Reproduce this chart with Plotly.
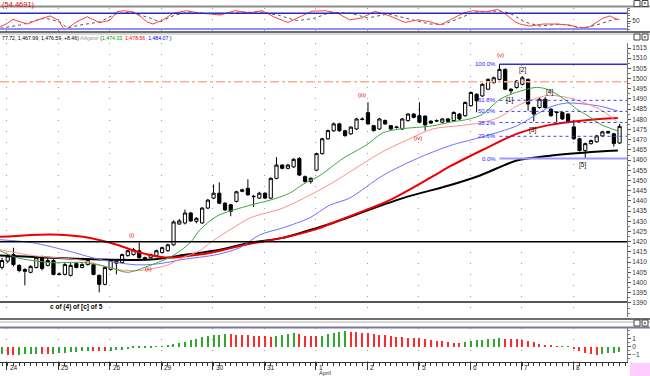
import plotly.graph_objects as go

# ---------------- data ----------------
day_labels = ["24", "25", "26", "29", "30", "31", "1", "2", "5", "6", "7", "8"]
bars_per_day = 9
first_day_bar = 0.87

opens = [1407.4, 1410.5, 1413.7, 1408.4, 1406.4, 1405.0, 1407.4, 1412.2, 1408.4, 1410.8,
         1404.2, 1404.0, 1403.5, 1409.3, 1407.4, 1408.8, 1408.8, 1403.5, 1399.1, 1406.4,
         1409.5, 1409.8, 1413.2, 1413.7, 1415.6, 1412.2, 1412.2, 1413.2, 1414.7, 1415.6,
         1418.5, 1428.7, 1429.2, 1434.1, 1430.0, 1429.2, 1436.5, 1441.4, 1443.8, 1438.9,
         1438.1, 1439.8, 1444.7, 1446.2, 1442.3, 1441.4, 1443.8, 1441.4, 1451.1, 1457.6,
         1456.0, 1456.7, 1460.8, 1451.9, 1449.5, 1455.1, 1463.2, 1470.5, 1474.4, 1477.8,
         1474.4, 1472.9, 1475.3, 1480.2, 1483.3, 1476.9, 1475.3, 1479.4, 1476.9, 1476.3,
         1475.3, 1479.4, 1482.6, 1481.8, 1481.6, 1479.1, 1479.4, 1478.6, 1480.2, 1479.4,
         1482.6, 1481.8, 1486.7, 1492.3, 1491.5, 1494.8, 1498.0, 1499.6, 1504.5, 1494.8,
         1495.6, 1497.2, 1499.6, 1485.8, 1485.8, 1489.9, 1485.0, 1483.6, 1483.4, 1482.6,
         1476.3, 1470.5, 1464.7, 1468.1, 1469.0, 1471.9, 1474.0, 1472.9, 1468.4]
highs = [1412.2, 1414.0, 1417.1, 1409.0, 1407.0, 1408.5, 1413.0, 1413.2, 1412.0, 1411.5,
         1405.0, 1410.0, 1409.8, 1410.0, 1409.5, 1412.0, 1409.3, 1404.0, 1408.0, 1411.3,
         1411.3, 1414.2, 1416.1, 1417.0, 1419.5, 1412.7, 1414.2, 1416.1, 1417.6, 1419.0,
         1430.5, 1431.2, 1435.8, 1434.6, 1432.0, 1437.0, 1441.0, 1448.1, 1449.1, 1439.4,
         1438.6, 1445.0, 1446.0, 1450.6, 1443.0, 1444.5, 1444.3, 1451.6, 1461.5, 1458.0,
         1458.2, 1461.0, 1461.5, 1452.5, 1451.6, 1463.7, 1471.0, 1475.0, 1478.5, 1478.3,
         1474.9, 1476.7, 1480.7, 1481.0, 1488.4, 1477.3, 1480.7, 1480.0, 1477.3, 1476.8,
         1480.7, 1483.1, 1483.1, 1488.4, 1482.0, 1479.6, 1480.0, 1480.7, 1480.7, 1483.9,
         1483.1, 1488.8, 1493.7, 1492.8, 1497.7, 1500.1, 1501.0, 1507.0, 1505.0, 1495.3,
         1499.3, 1501.2, 1500.1, 1486.3, 1490.4, 1490.9, 1485.5, 1484.1, 1483.9, 1483.1,
         1479.7, 1471.0, 1468.6, 1470.1, 1472.4, 1474.4, 1474.5, 1473.4, 1477.72]
lows = [1406.4, 1409.5, 1407.9, 1405.0, 1398.6, 1404.5, 1406.9, 1406.0, 1407.9, 1403.5,
        1403.5, 1403.5, 1403.0, 1406.9, 1407.0, 1408.4, 1403.5, 1395.2, 1398.6, 1405.9,
        1404.0, 1409.3, 1412.7, 1413.2, 1411.8, 1410.8, 1411.8, 1412.7, 1414.2, 1415.1,
        1418.0, 1428.3, 1428.5, 1429.7, 1429.0, 1428.8, 1436.0, 1440.9, 1438.4, 1435.1,
        1432.5, 1439.3, 1444.3, 1442.5, 1437.0, 1441.0, 1440.9, 1440.9, 1450.6, 1455.5,
        1455.5, 1456.2, 1452.2, 1449.0, 1448.5, 1454.6, 1462.7, 1470.0, 1473.9, 1473.9,
        1471.5, 1472.4, 1474.8, 1479.5, 1477.3, 1474.0, 1474.8, 1477.3, 1474.8, 1475.6,
        1474.8, 1478.9, 1480.5, 1478.1, 1474.5, 1477.8, 1478.8, 1478.1, 1478.4, 1478.9,
        1479.7, 1481.3, 1486.2, 1483.5, 1491.0, 1494.3, 1497.5, 1499.1, 1494.3, 1492.5,
        1495.1, 1496.7, 1484.2, 1479.0, 1485.3, 1485.3, 1481.3, 1478.6, 1479.7, 1478.1,
        1470.0, 1464.2, 1460.8, 1467.6, 1468.5, 1471.4, 1473.0, 1466.6, 1467.99]
closes = [1410.8, 1413.0, 1408.8, 1405.9, 1405.5, 1407.9, 1412.2, 1406.9, 1410.8, 1404.0,
          1404.0, 1408.8, 1408.4, 1407.4, 1408.8, 1411.3, 1404.0, 1399.1, 1407.4, 1410.8,
          1410.5, 1413.7, 1415.6, 1416.1, 1412.2, 1411.3, 1413.7, 1415.6, 1417.1, 1418.5,
          1429.7, 1430.2, 1434.1, 1430.2, 1431.5, 1436.5, 1440.4, 1443.8, 1438.9, 1435.6,
          1434.9, 1444.5, 1445.5, 1443.0, 1442.1, 1443.8, 1441.4, 1451.1, 1457.6, 1456.0,
          1457.6, 1460.4, 1452.7, 1449.5, 1451.1, 1463.2, 1470.5, 1474.5, 1477.8, 1474.4,
          1472.0, 1476.2, 1480.2, 1480.0, 1477.8, 1474.5, 1480.2, 1477.8, 1475.3, 1476.0,
          1480.2, 1482.6, 1481.0, 1478.6, 1477.3, 1478.2, 1479.2, 1480.2, 1478.9, 1483.4,
          1480.2, 1488.3, 1493.2, 1489.1, 1497.2, 1499.6, 1500.4, 1504.5, 1494.8, 1494.0,
          1498.8, 1500.4, 1487.5, 1482.6, 1489.9, 1485.8, 1481.8, 1483.4, 1480.2, 1478.6,
          1470.5, 1464.7, 1468.1, 1469.6, 1471.9, 1473.9, 1473.4, 1468.13, 1476.59]

# Alligator lines and two longer averages (bar position, price)
green_bar = [-0.35, 2.6, 8.4, 14.2, 18.9, 21.9, 25.9, 29.9, 32.9, 34.6, 37.6, 43.4, 46.9, 50.3,
             52.6, 55.6, 59.6, 63.8, 66.6, 69.6, 75.3, 78.3, 81.8, 84.1, 87.1, 90, 93.5, 95.8,
             98.8, 100.5, 102.8, 104.5, 107.7]
green_val = [1415.6, 1412.2, 1409.8, 1409.8, 1407.4, 1405.0, 1408.4, 1413.2, 1419.5, 1425.8,
             1432.6, 1437.9, 1440.4, 1443.8, 1448.1, 1452.5, 1460.8, 1467.6, 1473.4, 1475.3,
             1476.8, 1478.6, 1480.2, 1482.6, 1489.9, 1493.3, 1495.7, 1494.3, 1488.9, 1485.0,
             1481.2, 1477.8, 1474.3]
salmon_bar = [-0.35, 5.4, 14.2, 20.1, 24.1, 28.8, 31.6, 34.6, 36.4, 40.4, 43.4, 49.1, 53.8,
              57.9, 62.6, 66.6, 71.3, 75.3, 79.5, 83.6, 87.1, 90, 93.5, 95.8, 99.3, 104.5, 107.7]
salmon_val = [1416.1, 1413.2, 1410.8, 1406.4, 1405.9, 1408.4, 1412.2, 1415.6, 1419.5, 1426.8,
              1431.7, 1436.5, 1442.8, 1449.1, 1457.4, 1464.2, 1470.5, 1475.3, 1476.8, 1478.2,
              1481.2, 1486.5, 1490.4, 1491.8, 1490.4, 1485.0, 1478.6]
blue_bar = [-0.35, 5.4, 11.4, 17.1, 22.9, 25.9, 28.8, 31.6, 37.6, 41.6, 45.1, 49.1, 53.8, 57.3,
            60.8, 66.6, 72.6, 78.3, 84.1, 90, 95.8, 98.8, 104.5, 107.7]
blue_val = [1421.0, 1419.5, 1415.6, 1411.3, 1408.8, 1408.8, 1409.8, 1411.3, 1413.7, 1417.1,
            1423.4, 1426.8, 1431.7, 1437.9, 1441.4, 1452.5, 1460.8, 1467.1, 1471.5, 1476.8,
            1486.0, 1488.0, 1486.5, 1484.1]
red_bar = [-0.35, 8.4, 14.2, 20.1, 24.1, 28.8, 34.6, 38.1, 43.4, 49.1, 55.1, 57.3, 67.8, 75.3,
           78.3, 84.1, 90, 95.8, 104.5, 107.7]
red_val = [1422.4, 1423.6, 1422.4, 1418.5, 1414.7, 1412.2, 1413.7, 1415.6, 1419.0, 1421.9,
           1426.3, 1428.7, 1440.4, 1452.0, 1456.9, 1465.1, 1472.9, 1477.3, 1480.2, 1480.7]
black_bar = [-0.35, 17.1, 25.9, 32.3, 38.1, 43.4, 49.1, 55.1, 57.3, 70.1, 78.3, 83.6, 90, 95.8,
             104.5, 107.7]
black_val = [1413.2, 1411.3, 1411.3, 1413.7, 1416.1, 1419.5, 1421.9, 1426.8, 1428.7, 1441.4,
             1447.7, 1452.5, 1459.8, 1462.2, 1464.2, 1464.7]

# stochastic-type oscillator (top panel)
osc_k_bar = [-0.3, 0.9, 1.9, 4.4, 6.1, 8.4, 9.8, 11, 13.1, 14.9, 17.1, 18.9, 20.1, 21.2, 22.9,
             24.1, 25.3, 26.4, 28.1, 29.9, 32.3, 34.6, 36.9, 38.1, 40.7, 43.4, 45.5, 47.7, 50,
             52.1, 54.2, 56.5, 58.7, 60.8, 62.9, 65.2, 67.8, 70.5, 72.7, 74.8, 76.6, 78.3, 80.6,
             82.3, 84.8, 86.7, 88.3, 89.7, 90.6, 92.3, 94.6, 97, 99.3, 101, 102.8, 105.1,
             106.3, 107.5, 108]
osc_k_val = [29, 41, 57, 39, 54, 70, 54, 16, 48, 67, 44, 54, 86, 90, 86, 70, 48, 39, 54, 80,
             90, 80, 77, 73, 90, 82, 90, 65, 45, 65, 88, 90, 80, 55, 62, 88, 70, 45, 55, 48,
             35, 54, 80, 90, 86, 95, 73, 48, 39, 31, 39, 39, 35, 23, 29, 61, 70, 57, 57]
osc_d_bar = [-0.3, 3.1, 7.5, 10.1, 11.4, 13.6, 17.1, 19.8, 22.4, 25.9, 27.6, 30.2, 32.9, 37.2,
             41.5, 45, 48.5, 51.5, 54.5, 57.5, 61, 64, 67.5, 71, 74.8, 77.4, 80, 82.7, 87,
             88.8, 91.4, 94.1, 97.6, 101.9, 104.5, 107.2, 108]
osc_d_val = [23, 35, 62, 47, 24, 35, 47, 77, 85, 62, 47, 73, 85, 77, 82, 86, 72, 52, 60, 84,
             80, 62, 78, 58, 39, 39, 62, 85, 89, 81, 47, 31, 39, 24, 39, 58, 58]

# histogram (bottom panel)
hist_vals = [-0.95, -1.0, -1.05, -0.98, -0.92, -0.88, -0.85, -0.88, -0.9, -0.85,
             -0.8, -0.74, -0.68, -0.62, -0.55, -0.5, -0.52, -0.56, -0.58, -0.5,
             -0.42, -0.35, -0.28, -0.22, -0.16, -0.11, -0.06, -0.02, 0.05, 0.15,
             0.3, 0.45, 0.6, 0.8, 1.0, 1.2, 1.35, 1.45, 1.5, 1.58,
             1.55, 1.5, 1.45, 1.42, 1.4, 1.35, 1.3, 1.25, 1.4, 1.5,
             1.6, 1.68, 1.55, 1.4, 1.3, 1.28, 1.4, 1.55, 1.75, 1.9,
             2.0, 1.9, 1.8, 1.7, 1.67, 1.6, 1.52, 1.45, 1.35, 1.25,
             1.2, 1.15, 1.12, 1.05, 0.95, 0.85, 0.75, 0.68, 0.6, 0.52,
             0.5, 0.62, 0.72, 0.83, 0.88, 0.93, 1.0, 1.05, 1.02, 0.98,
             0.92, 0.83, 0.7, 0.55, 0.4, 0.25, 0.12, 0.03, 0.05, 0.06,
             -0.3, -0.55, -0.75, -0.95, -1.0, -0.85, -0.8, -0.75, -0.72]

# horizontal levels and annotations
level_1420 = 1420
level_orange = 1498.5
level_low = 1390.4
fib_start_bar = 87
fib_ratios = [1.0, 0.618, 0.5, 0.382, 0.236, 0.0]
fib_texts = ["100.0%", "61.8%", "50.0%", "38.2%", "23.6%", "0.0%"]
wave_red = [("(i)", 22.7, 1423.4), ("(ii)", 25.7, 1406.4), ("(iii)", 62.9, 1491.8),
            ("(iv)", 72.7, 1470.9), ("(v)", 87.1, 1511.7)]
wave_black = [("[1]", 88.8, 1489.4), ("[2]", 91.1, 1504.1), ("[3]", 92.8, 1474.9),
              ("[4]", 95.8, 1493.2), ("[5]", 101.6, 1457.4)]
count_text = ("c of (4) of [c] of 5", 13.1, 1388.0)
header_ohlc = "77.72, 1,467.99, 1,476.59, +8.46)"
alligator_vals = ["1,474.33", "1,478.56", "1,484.07"]
osc_value_text = "(54.4691)"
month_label = "April"

# ---------------- figure ----------------
W, H = 650, 376
n = len(opens)
bars = list(range(n))
xmin, xmax = -0.35, 109.3
day_ticks = [first_day_bar + bars_per_day * k for k in range(len(day_labels))]
FONT = "Liberation Sans"


def py(p):  # pixel row -> paper y
    return 1 - p / H


fig = go.Figure()

fig.add_trace(go.Candlestick(
    x=bars, open=opens, high=highs, low=lows, close=closes,
    increasing=dict(line=dict(color="black", width=1), fillcolor="white"),
    decreasing=dict(line=dict(color="black", width=1), fillcolor="black"),
    whiskerwidth=0, xaxis="x", yaxis="y", showlegend=False, hoverinfo="skip"))

for bx, vals, col, wd in [(black_bar, black_val, "black", 2),
                           (red_bar, red_val, "#ee0000", 2),
                           (blue_bar, blue_val, "#6f6fff", 1),
                           (salmon_bar, salmon_val, "#ff8c8c", 1),
                           (green_bar, green_val, "#3aa83a", 1)]:
    fig.add_trace(go.Scatter(x=bx, y=vals, mode="lines", line=dict(color=col, width=wd, shape="spline", smoothing=0.8),
                             xaxis="x", yaxis="y", hoverinfo="skip", showlegend=False))

fig.add_trace(go.Scatter(x=osc_d_bar, y=osc_d_val, mode="lines", line=dict(color="#555555", width=1, dash="dot"),
                         xaxis="x2", yaxis="y2", hoverinfo="skip", showlegend=False))
fig.add_trace(go.Scatter(x=osc_k_bar, y=osc_k_val, mode="lines", line=dict(color="#ff4040", width=1),
                         xaxis="x2", yaxis="y2", hoverinfo="skip", showlegend=False))

hist_cols = []
for i, v in enumerate(hist_vals):
    prev = hist_vals[i - 1] if i > 0 else v
    hist_cols.append("#2fa82f" if v >= prev else "#ff2a2a")
fig.add_trace(go.Bar(x=bars, y=hist_vals, marker=dict(color=hist_cols, line=dict(width=0)), width=0.2,
                     xaxis="x3", yaxis="y3", hoverinfo="skip", showlegend=False))

shapes = []
shapes.append(dict(type="line", xref="x", yref="y", x0=xmin, x1=xmax, y0=level_1420, y1=level_1420,
                   line=dict(color="black", width=1.5)))
shapes.append(dict(type="line", xref="x", yref="y", x0=xmin, x1=xmax, y0=level_orange, y1=level_orange,
                   line=dict(color="#ffae8c", width=1.5, dash="dashdot")))
shapes.append(dict(type="line", xref="x", yref="y", x0=xmin, x1=xmax, y0=level_low, y1=level_low,
                   line=dict(color="#555555", width=2)))

fib_hi = max(highs)
fib_lo = min(lows[fib_start_bar:])
annotations = []
for r, t in zip(fib_ratios, fib_texts):
    lvl = fib_lo + (fib_hi - fib_lo) * r
    if r == 1.0:
        ln = dict(color="#3030d0", width=1.5)
    elif r == 0.0:
        ln = dict(color="#9a9aff", width=2)
    else:
        ln = dict(color="#4040e0", width=1, dash="dot")
    shapes.append(dict(type="line", xref="x", yref="y", x0=fib_start_bar, x1=xmax, y0=lvl, y1=lvl, line=ln))
    annotations.append(dict(x=fib_start_bar - 0.3, y=lvl, xref="x", yref="y", text=t, showarrow=False,
                            xanchor="right", yanchor="middle", font=dict(size=6, color="#2020ff", family=FONT)))

shapes.append(dict(type="line", xref="x2", yref="y2", x0=xmin, x1=xmax, y0=80, y1=80,
                   line=dict(color="#2828c8", width=1.5)))
shapes.append(dict(type="line", xref="x2", yref="y2", x0=xmin, x1=xmax, y0=20, y1=20,
                   line=dict(color="#8f8fff", width=2)))

for y0p, col, wd in [(6.5, "#8c8c8c", 2), (32, "#6e6e6e", 2), (34, "#b0b0b0", 1),
                     (319, "#6e6e6e", 2), (322, "#b0b0b0", 1), (327.5, "#7878a0", 2)]:
    shapes.append(dict(type="line", xref="paper", yref="paper", x0=0, x1=1, y0=py(y0p), y1=py(y0p),
                       line=dict(color=col, width=wd)))
shapes.append(dict(type="rect", xref="paper", yref="paper", x0=630 / W, x1=1, y0=0, y1=py(363),
                   fillcolor="#ffccff", line=dict(width=0), layer="below"))
# small window buttons at the right of each panel header
for yy in [3.5, 37, 323]:
    for bx0 in [634, 642]:
        shapes.append(dict(type="rect", xref="paper", yref="paper", x0=bx0 / W, x1=(bx0 + 6) / W,
                           y0=py(yy + 3), y1=py(yy - 3), fillcolor="white",
                           line=dict(color="#444", width=1)))

for t, bx, p in wave_red:
    annotations.append(dict(x=bx, y=p, xref="x", yref="y", text=t, showarrow=False,
                            font=dict(size=6, color="#e00000", family=FONT)))
for t, bx, p in wave_black:
    annotations.append(dict(x=bx, y=p, xref="x", yref="y", text=t, showarrow=False,
                            font=dict(size=6.5, color="black", family=FONT)))
annotations.append(dict(x=count_text[1], y=count_text[2], xref="x", yref="y", text="<b>" + count_text[0] + "</b>",
                        showarrow=False, font=dict(size=6.5, color="black", family=FONT)))

header = (header_ohlc + " <span style='color:#9a9a9a'>Alligator</span> ("
          + "<span style='color:#00a000'>" + alligator_vals[0] + ",</span> "
          + "<span style='color:#ff0000'>" + alligator_vals[1] + ",</span> "
          + "<span style='color:#0000ff'>" + alligator_vals[2] + "</span> )")
annotations.append(dict(x=0, y=py(38), xref="paper", yref="paper", text=header, showarrow=False,
                        xanchor="left", yanchor="middle", font=dict(size=5.2, color="black", family=FONT)))
annotations.append(dict(x=0, y=py(4.2), xref="paper", yref="paper", text=osc_value_text, showarrow=False,
                        xanchor="left", yanchor="middle", font=dict(size=7.5, color="#e00000", family=FONT)))
for t, d in zip(day_labels, day_ticks):
    annotations.append(dict(x=d + 0.15, y=py(367), xref="x3", yref="paper", text=t, showarrow=False,
                            xanchor="left", yanchor="middle", font=dict(size=6.5, color="#222", family=FONT)))
annotations.append(dict(x=day_ticks[6] + 0.15, y=py(373), xref="x3", yref="paper", text=month_label,
                        showarrow=False, xanchor="left", yanchor="middle",
                        font=dict(size=6, color="#333", family=FONT)))
for yy in [3.5, 37, 323]:
    annotations.append(dict(x=645 / W, y=py(yy), xref="paper", yref="paper", text="×", showarrow=False,
                            xanchor="center", yanchor="middle", font=dict(size=6, color="#222", family=FONT)))

grid = dict(showgrid=True, gridcolor="#9a9a9a", griddash="1px,10px", gridwidth=1)
xcommon = dict(domain=[0, 627 / W], range=[xmin, xmax], tickvals=day_ticks, zeroline=False, **grid)

fig.update_layout(
    width=W, height=H, margin=dict(l=0, r=0, t=0, b=0, autoexpand=False),
    paper_bgcolor="white", plot_bgcolor="white", showlegend=False,
    font=dict(family=FONT, size=7, color="#333"),
    bargap=0, boxgap=0.2,
    xaxis=dict(anchor="y", showticklabels=False, ticks="", rangeslider=dict(visible=False), **xcommon),
    xaxis2=dict(anchor="y2", matches="x", showticklabels=False, ticks="", **xcommon),
    xaxis3=dict(anchor="y3", matches="x", showticklabels=False, ticks="outside", ticklen=7, tickcolor="#333",
                showline=True, linecolor="#333", linewidth=1,
                minor=dict(tick0=0, dtick=1, ticks="outside", ticklen=3, tickcolor="#333"),
                automargin=False, **xcommon),
    yaxis=dict(domain=[py(317), py(43)], range=[1383.1, 1517.45], side="right", anchor="x",
               tickvals=list(range(1390, 1520, 5)), ticks="outside", ticklen=3, tickcolor="#555",
               minor=dict(dtick=2.5, ticks="outside", ticklen=2, tickcolor="#777"),
               showline=True, linecolor="#777", showgrid=False, zeroline=False, automargin=False,
               tickfont=dict(size=6.5, color="#333")),
    yaxis2=dict(domain=[py(31), py(8)], range=[12.4, 100.3], side="right", anchor="x2",
                tickvals=[50], ticks="outside", ticklen=3, tickcolor="#555",
                minor=dict(dtick=10, ticks="outside", ticklen=2, tickcolor="#777"),
                showline=True, linecolor="#777", showgrid=False, zeroline=False, automargin=False,
                tickfont=dict(size=6.5, color="#333")),
    yaxis3=dict(domain=[py(362), py(328)], range=[-1.91, 2.34], side="right", anchor="x3",
                tickvals=[-1, 0, 1], ticks="outside", ticklen=3, tickcolor="#555",
                minor=dict(dtick=0.5, ticks="outside", ticklen=2, tickcolor="#777"),
                showline=True, linecolor="#777", showgrid=False, zeroline=False, automargin=False,
                tickfont=dict(size=6.5, color="#333")),
    shapes=shapes, annotations=annotations,
)

fig.write_html("out.html", config={"displayModeBar": False},
               post_script="document.body.style.margin='0px';document.body.style.overflow='hidden';")
